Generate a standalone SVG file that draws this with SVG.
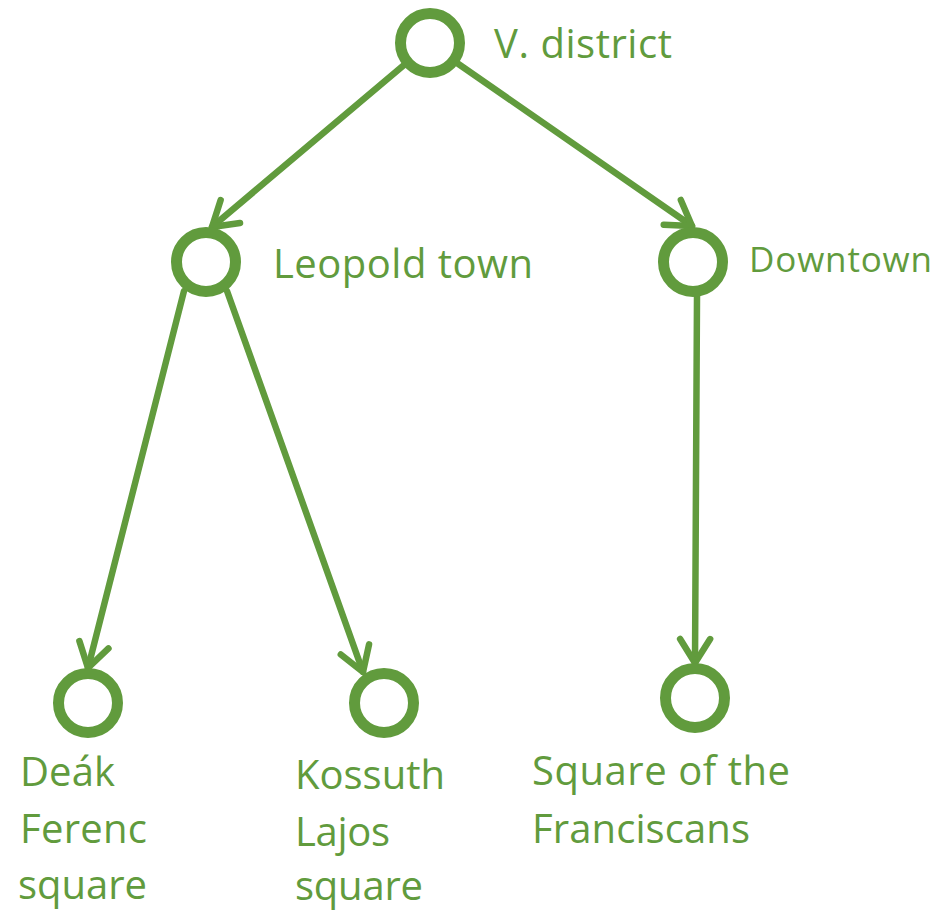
<svg xmlns="http://www.w3.org/2000/svg" width="934" height="912" viewBox="0 0 934 912">
<defs>
<style>
.node circle{fill:none;stroke:#619B3D;stroke-width:11}
.lbl{font-family:"Open Sans","Noto Sans",sans-serif;font-size:40px;fill:#619B3D}
.sm{font-size:35px}
#connectors line{stroke:#619B3D;stroke-width:6.5;stroke-linecap:round}
</style>
<marker id="arr" markerUnits="userSpaceOnUse" markerWidth="60" markerHeight="60" refX="0" refY="0" orient="auto" viewBox="-30 -30 60 60" overflow="visible">
<path d="M-24,-15 L0,0 L-24,15" fill="none" stroke="#619B3D" stroke-width="6.5" stroke-linecap="round" stroke-linejoin="round"/>
</marker>
</defs>
<rect width="934" height="912" fill="#fff"/>
<g id="connectors">
<line x1="404" y1="65" x2="212" y2="227" marker-end="url(#arr)"/>
<line x1="457" y1="63" x2="692" y2="226" marker-end="url(#arr)"/>
<line x1="184" y1="291" x2="88" y2="668" marker-end="url(#arr)"/>
<line x1="227" y1="291" x2="363" y2="672" marker-end="url(#arr)"/>
<line x1="697" y1="296" x2="695" y2="663" marker-end="url(#arr)"/>
</g>
<g id="v-district" class="node">
<circle cx="430" cy="43" r="29.5"/>
<text class="lbl" x="494" y="58" textLength="178">V. district</text>
</g>
<g id="leopold-town" class="node">
<circle cx="206" cy="262" r="29.5"/>
<text class="lbl" x="273" y="278" textLength="260">Leopold town</text>
</g>
<g id="downtown" class="node">
<circle cx="693" cy="262" r="29.5"/>
<text class="lbl sm" x="749" y="272" textLength="183">Downtown</text>
</g>
<g id="deak-ferenc-square" class="node">
<circle cx="88" cy="703" r="29.5"/>
<text class="lbl" x="20" y="786" textLength="95">Deák</text>
<text class="lbl" x="20" y="843" textLength="127">Ferenc</text>
<text class="lbl" x="18" y="899" textLength="129">square</text>
</g>
<g id="kossuth-lajos-square" class="node">
<circle cx="384" cy="703" r="29.5"/>
<text class="lbl" x="295" y="789" textLength="150">Kossuth</text>
<text class="lbl" x="295" y="846" textLength="95">Lajos</text>
<text class="lbl" x="295" y="900" textLength="128">square</text>
</g>
<g id="square-of-the-franciscans" class="node">
<circle cx="695" cy="698" r="29.5"/>
<text class="lbl" x="532" y="785" textLength="258">Square of the</text>
<text class="lbl" x="532" y="843" textLength="218">Franciscans</text>
</g>
</svg>
